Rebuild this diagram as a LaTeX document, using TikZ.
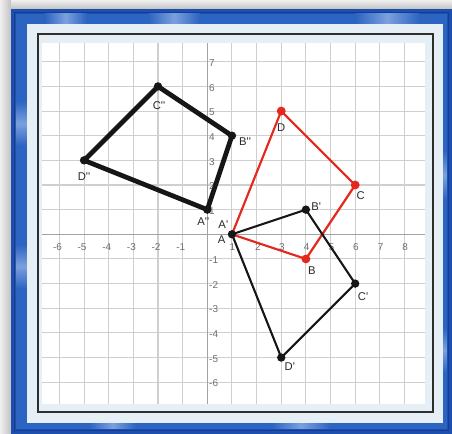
\documentclass[tikz,border=0pt]{standalone}
\usepackage{xcolor}
\usepackage{tikz}
\usepackage{fontspec}
\newfontfamily\ptfont{Liberation Sans}
\definecolor{FrameBack}{HTML}{E2E2E2}
\definecolor{ShadowDark}{HTML}{C2C2C2}
\definecolor{ShadowLight}{HTML}{EFEFEF}
\definecolor{FrameBlue}{HTML}{1C4FAE}
\definecolor{FrameNavy}{HTML}{173A98}
\definecolor{FrameBevel}{HTML}{2C64C1}
\definecolor{FrameGlow}{HTML}{7BA0DD}
\definecolor{PanelBlue}{HTML}{E6EEF6}
\definecolor{BorderDark}{HTML}{2E2E2E}
\definecolor{GridGray}{HTML}{CFCFCF}
\definecolor{AxisGray}{HTML}{A3A3A3}
\definecolor{TickGray}{HTML}{6E6E6E}
\definecolor{LabelDark}{HTML}{2A2A2A}
\definecolor{TransRed}{HTML}{E5281E}
\definecolor{ShapeBlack}{HTML}{161616}

\begin{document}
\begin{tikzpicture}[x=1cm,y=1cm,
  gridline/.style={GridGray,line width=1.2pt},
  axisline/.style={AxisGray,line width=1.7pt},
  ticklabel/.style={text=TickGray,inner sep=0pt,font={\fontsize{11.5}{13}\selectfont\ptfont}},
  ptlabel/.style={text=LabelDark,inner sep=0pt,font={\fontsize{13}{15}\selectfont\ptfont}},
  redside/.style={TransRed,line width=2.5pt,line join=round},
  primeside/.style={ShapeBlack,line width=2.4pt,line join=round},
  dprimeside/.style={ShapeBlack,line width=5.5pt,line join=round},
  reddot/.style={circle,fill=TransRed,inner sep=0pt,minimum size=0.36cm},
  blackdot/.style={circle,fill=ShapeBlack,inner sep=0pt,minimum size=0.34cm},
  glowh/.style={left color=FrameBevel,right color=FrameBevel,middle color=FrameGlow},
  glowv/.style={top color=FrameBevel,bottom color=FrameBevel,middle color=FrameGlow}]
\path[use as bounding box] (-8.41,-8.101) rectangle (9.927,9.505);
\fill[FrameBack] (-8.41,-8.101) rectangle (9.927,9.505);
\shade[left color=ShadowLight,right color=ShadowDark] (-8.41,-8.101) rectangle (-7.963,9.505);
\shade[top color=ShadowLight,bottom color=ShadowDark] (-7.963,9.14) rectangle (9.927,9.505);
\fill[FrameBlue] (-7.963,-8.101) rectangle (9.927,9.14);
\fill[FrameBevel] (-7.761,-7.898) rectangle (9.724,8.937);
\shade[glowh] (-6.6,8.3) rectangle (-4.9,8.937);
\shade[glowh] (-2.4,8.3) rectangle (-0.3,8.937);
\shade[glowh] (6.0,8.3) rectangle (8.6,8.937);
\shade[glowh] (-4.8,-7.898) rectangle (-2.9,-7.4);
\shade[glowh] (2.6,-7.898) rectangle (5.0,-7.4);
\shade[glowv] (-7.761,3.6) rectangle (-7.1,5.4);
\shade[glowv] (-7.761,-2.2) rectangle (-7.1,-0.4);
\shade[glowv] (9.3,1.4) rectangle (9.724,3.4);
\shade[glowv] (9.3,-5.6) rectangle (9.724,-3.8);
\draw[FrameNavy,line width=1.2pt] (-7.822,-7.959) rectangle (9.785,8.998);
\fill[PanelBlue] (-7.314,-7.655) rectangle (9.562,8.531);
\draw[BorderDark,line width=1.8pt] (-6.868,-7.209) rectangle (9.156,8.126);
\fill[white] (-6.706,-6.884) rectangle (8.832,7.761);
\draw[gridline] (-6.706,-6.884) grid (8.832,7.761);
\draw[axisline] (-6.706,0) -- (8.832,0);
\draw[axisline] (0,-6.884) -- (0,7.761);
\node[ticklabel] (xm6) at (-6.08,-0.515) {-6};
\node[ticklabel] (xm5) at (-5.08,-0.515) {-5};
\node[ticklabel] (xm4) at (-4.08,-0.515) {-4};
\node[ticklabel] (xm3) at (-3.08,-0.515) {-3};
\node[ticklabel] (xm2) at (-2.08,-0.515) {-2};
\node[ticklabel] (xm1) at (-1.08,-0.515) {-1};
\node[ticklabel] (xp1) at (1.02,-0.515) {1};
\node[ticklabel] (xp2) at (2.05,-0.515) {2};
\node[ticklabel] (xp3) at (3.03,-0.515) {3};
\node[ticklabel] (xp4) at (4.03,-0.515) {4};
\node[ticklabel] (xp5) at (5.03,-0.515) {5};
\node[ticklabel] (xp6) at (6.03,-0.515) {6};
\node[ticklabel] (xp7) at (7.03,-0.515) {7};
\node[ticklabel] (xp8) at (8.03,-0.515) {8};
\node[ticklabel,anchor=west] (yp7) at (0.07,6.95) {7};
\node[ticklabel,anchor=west] (yp6) at (0.07,5.95) {6};
\node[ticklabel,anchor=west] (yp5) at (0.07,4.95) {5};
\node[ticklabel,anchor=west] (yp4) at (0.07,3.95) {4};
\node[ticklabel,anchor=west] (yp3) at (0.07,2.95) {3};
\node[ticklabel,anchor=west] (yp2) at (0.07,1.95) {2};
\node[ticklabel,anchor=west] (yp1) at (0.07,0.95) {1};
\node[ticklabel,anchor=west] (ym1) at (0.07,-1.05) {-1};
\node[ticklabel,anchor=west] (ym2) at (0.07,-2.05) {-2};
\node[ticklabel,anchor=west] (ym3) at (0.07,-3.05) {-3};
\node[ticklabel,anchor=west] (ym4) at (0.07,-4.05) {-4};
\node[ticklabel,anchor=west] (ym5) at (0.07,-5.05) {-5};
\node[ticklabel,anchor=west] (ym6) at (0.07,-6.05) {-6};
\coordinate (A) at (1,0);
\coordinate (B) at (4,-1);
\coordinate (C) at (6,2);
\coordinate (D) at (3,5);
\coordinate (A1) at (1,0);
\coordinate (B1) at (4,1);
\coordinate (C1) at (6,-2);
\coordinate (D1) at (3,-5);
\coordinate (A2) at (0,1);
\coordinate (B2) at (1,4);
\coordinate (C2) at (-2,6);
\coordinate (D2) at (-5,3);
\draw[dprimeside] (A2) -- (B2) -- (C2) -- (D2) -- cycle;
\draw[redside] (A) -- (B) -- (C) -- (D) -- cycle;
\draw[primeside] (A1) -- (B1) -- (C1) -- (D1) -- cycle;
\node[reddot] (dotB) at (B) {};
\node[reddot] (dotC) at (C) {};
\node[reddot] (dotD) at (D) {};
\node[blackdot] (dotA1) at (A1) {};
\node[blackdot] (dotB1) at (B1) {};
\node[blackdot] (dotC1) at (C1) {};
\node[blackdot] (dotD1) at (D1) {};
\node[blackdot] (dotA2) at (A2) {};
\node[blackdot] (dotB2) at (B2) {};
\node[blackdot] (dotC2) at (C2) {};
\node[blackdot] (dotD2) at (D2) {};
\node[ptlabel] (labD) at (3,4.32) {D};
\node[ptlabel] (labC) at (6.22,1.55) {C};
\node[ptlabel] (labB) at (4.24,-1.46) {B};
\node[ptlabel] (labA) at (0.58,-0.23) {A};
\node[ptlabel] (labA1) at (0.65,0.38) {A'};
\node[ptlabel] (labB1) at (4.42,1.12) {B'};
\node[ptlabel] (labC1) at (6.32,-2.52) {C'};
\node[ptlabel] (labD1) at (3.35,-5.38) {D'};
\node[ptlabel] (labA2) at (-0.16,0.5) {A''};
\node[ptlabel] (labB2) at (1.53,3.76) {B''};
\node[ptlabel] (labC2) at (-1.96,5.23) {C''};
\node[ptlabel] (labD2) at (-5.0,2.32) {D''};
\end{tikzpicture}
\end{document}
